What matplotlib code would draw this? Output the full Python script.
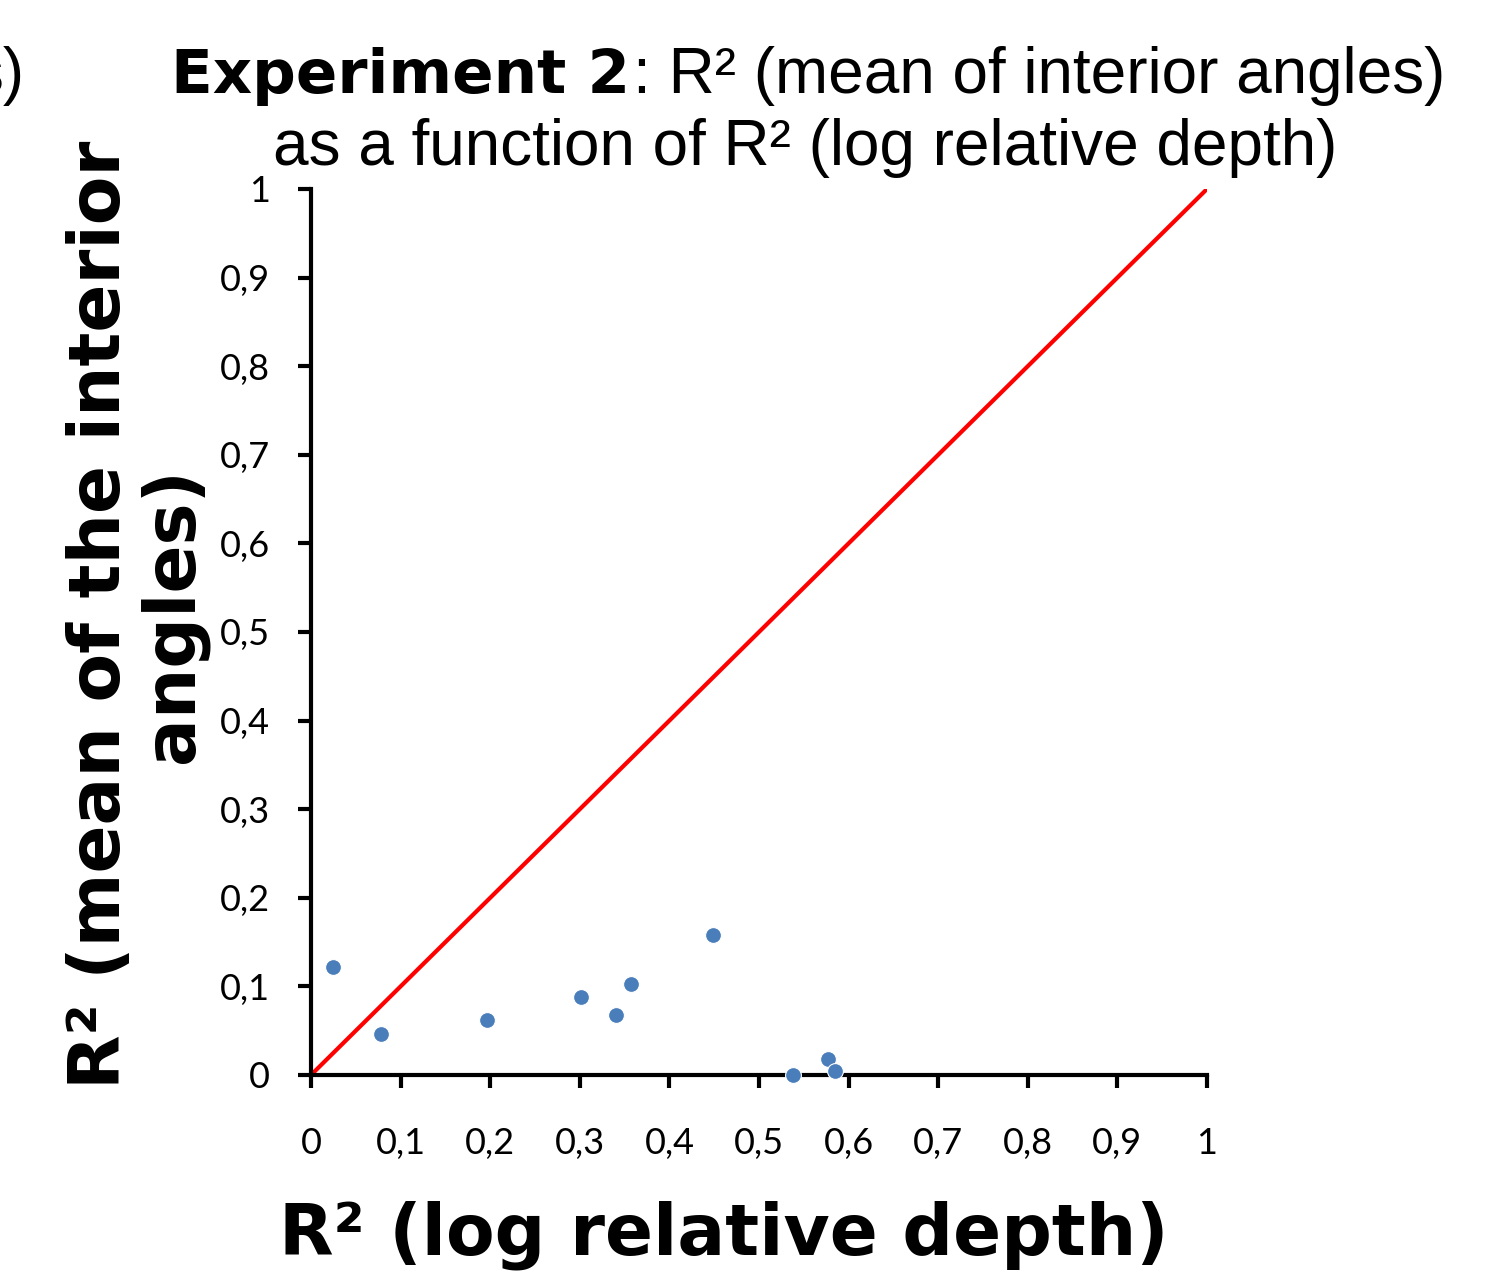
import matplotlib
matplotlib.use("Agg")
import matplotlib.pyplot as plt
from matplotlib.ticker import MultipleLocator, FuncFormatter

# valeurs
r2_log_depth = [0.025, 0.078, 0.196, 0.301, 0.340, 0.357, 0.449, 0.538, 0.577, 0.585]
r2_angles = [0.122, 0.046, 0.062, 0.088, 0.068, 0.103, 0.158, 0.000, 0.018, 0.004]
identity = [0, 1]

W, H = 1494, 1276
DPI = 100


def comma_fmt(v, pos):
    if abs(v) < 1e-9:
        return "0"
    if abs(v - 1) < 1e-9:
        return "1"
    return f"{v:.1f}".replace(".", ",")


fig = plt.figure(figsize=(W / DPI, H / DPI), dpi=DPI)
ax = fig.add_axes([311 / W, 1 - 1075 / H, (1207 - 311) / W, (1075 - 189) / H])

ax.plot(identity, identity, color="#ff0000", lw=3, solid_capstyle="round", zorder=2)
ax.scatter(r2_log_depth, r2_angles, s=130, color="#4a7ebb", edgecolors="white",
           linewidths=0.8, zorder=3, clip_on=False)

ax.set_xlim(0, 1)
ax.set_ylim(0, 1)
ax.xaxis.set_major_locator(MultipleLocator(0.1))
ax.yaxis.set_major_locator(MultipleLocator(0.1))
ax.xaxis.set_major_formatter(FuncFormatter(comma_fmt))
ax.yaxis.set_major_formatter(FuncFormatter(comma_fmt))

for side in ("top", "right"):
    ax.spines[side].set_visible(False)
for side in ("left", "bottom"):
    ax.spines[side].set_linewidth(3)
    ax.spines[side].set_capstyle("projecting")

ax.tick_params(axis="both", direction="out", length=9.5, width=3, labelsize=26)
ax.tick_params(axis="x", pad=28)
ax.tick_params(axis="y", pad=20)
for lab in ax.get_xticklabels() + ax.get_yticklabels():
    lab.set_family("Lato")


def fy(px):
    return 1 - px / H


title_kw = dict(family="Liberation Sans", fontsize=46, va="baseline")
fig.text(630 / W, fy(93), "Experiment 2", ha="right", weight="bold",
         family="DejaVu Sans", fontsize=44, va="baseline")
fig.text(633 / W, fy(93), ": R² (mean of interior angles)", ha="left", **title_kw)
fig.text(805 / W, fy(165), "as a function of R² (log relative depth)", ha="center", **title_kw)
fig.text(24 / W, fy(93), "s)", ha="right", **title_kw)

fig.text(137 / W, fy(615), "R² (mean of the interior\nangles)", rotation=90,
         ha="center", va="center", multialignment="center", family="DejaVu Sans",
         weight="bold", fontsize=51, linespacing=1.05)
fig.text(724 / W, fy(1235), "R² (log relative depth)", ha="center", va="center",
         family="DejaVu Sans", weight="bold", fontsize=51)

fig.savefig("out.png", dpi=DPI)
